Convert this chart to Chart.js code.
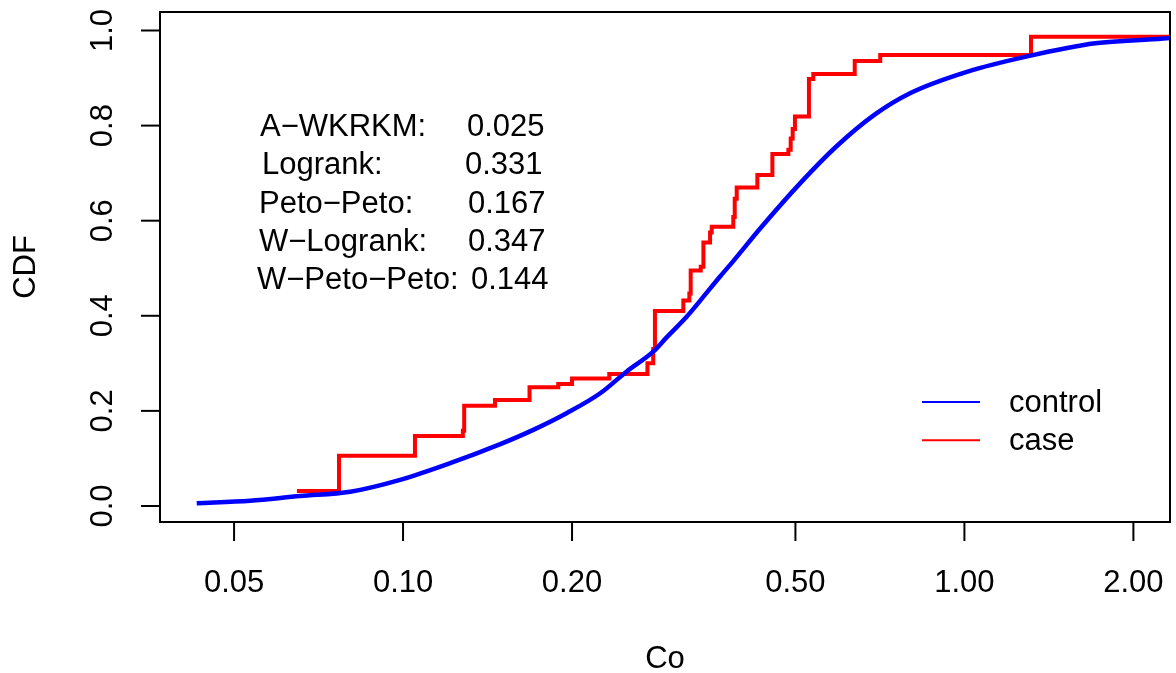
<!DOCTYPE html>
<html lang="en">
<head>
    <meta charset="UTF-8">
    <title>CDF control vs case</title>
    <script src="https://cdn.jsdelivr.net/npm/chart.js"></script>
    <style>
        body {
            margin: 0;
            padding: 0;
            background: #ffffff;
        }
        .chart-container {
            width: 1176px;
            height: 673px;
        }
    </style>
</head>
<body>
    <div class="chart-container">
        <canvas id="cdfChart" width="1176" height="673"></canvas>
    </div>

    <script>
        const controlX = [0.0429, 0.0534, 0.0655, 0.0805, 0.0988, 0.1213, 0.149, 0.1706, 0.1955,
                          0.2245, 0.250, 0.279, 0.2945, 0.320, 0.3384, 0.3667, 0.3875, 0.433, 0.51,
                          0.59, 0.69, 0.80, 1.01, 1.30, 1.71, 2.26, 2.40];
        const controlY = [0.0057, 0.011, 0.021, 0.030, 0.055, 0.090, 0.130, 0.160, 0.195,
                          0.237, 0.2825, 0.3245, 0.354, 0.398, 0.432, 0.482, 0.515, 0.584, 0.679,
                          0.755, 0.822, 0.868, 0.913, 0.946, 0.973, 0.983, 0.986];

        // case: step function, value after each jump
        const caseX = [0.0647, 0.0769, 0.105, 0.1278, 0.1285, 0.1458, 0.168, 0.189, 0.200, 0.233,
                       0.2725, 0.279, 0.281, 0.3157, 0.3236, 0.3254, 0.3391, 0.3428, 0.3523, 0.3547,
                       0.3875, 0.3898, 0.393, 0.4277, 0.4549, 0.4857, 0.4904, 0.4944, 0.499, 0.5285,
                       0.538, 0.6377, 0.708, 1.314, 2.40];
        const caseY = [0.0315, 0.1058, 0.147, 0.158, 0.211, 0.223, 0.2496, 0.2566, 0.268, 0.2776,
                       0.300, 0.330, 0.410, 0.432, 0.447, 0.495, 0.503, 0.554, 0.575, 0.587,
                       0.608, 0.646, 0.670, 0.696, 0.740, 0.749, 0.773, 0.793, 0.819, 0.898,
                       0.9085, 0.936, 0.9485, 0.987, 0.987];

        const xTicks = [0.05, 0.1, 0.2, 0.5, 1, 2];
        const xTickLabels = ['0.05', '0.10', '0.20', '0.50', '1.00', '2.00'];
        const yTicks = [0, 0.2, 0.4, 0.6, 0.8, 1.0];
        const yTickLabels = ['0.0', '0.2', '0.4', '0.6', '0.8', '1.0'];

        const testNames = ['A\u2212WKRKM:', 'Logrank:', 'Peto\u2212Peto:', 'W\u2212Logrank:', 'W\u2212Peto\u2212Peto:'];
        const testPValues = ['0.025', '0.331', '0.167', '0.347', '0.144'];

        const legendLabels = ['control', 'case'];
        const legendColors = ['#0000ff', '#ff0000'];

        const FONT = '31px "Liberation Sans", Arial, Helvetica, sans-serif';

        // R-style box, ticks, labels, annotation and legend
        const baseGraphics = {
            id: 'baseGraphics',
            afterDraw(chart) {
                const ctx = chart.ctx;
                const area = chart.chartArea;
                const xs = chart.scales.x;
                const ys = chart.scales.y;
                ctx.save();
                ctx.strokeStyle = '#000';
                ctx.fillStyle = '#000';
                ctx.lineWidth = 2;
                ctx.strokeRect(area.left, area.top, area.right - area.left, area.bottom - area.top);

                ctx.font = FONT;
                // x axis
                ctx.textAlign = 'center';
                ctx.textBaseline = 'alphabetic';
                xTicks.forEach((v, i) => {
                    const px = xs.getPixelForValue(v);
                    ctx.beginPath();
                    ctx.moveTo(px, area.bottom);
                    ctx.lineTo(px, area.bottom + 19);
                    ctx.stroke();
                    ctx.fillText(xTickLabels[i], px, 592);
                });
                // y axis
                yTicks.forEach((v, i) => {
                    const py = ys.getPixelForValue(v);
                    ctx.beginPath();
                    ctx.moveTo(area.left, py);
                    ctx.lineTo(area.left - 19, py);
                    ctx.stroke();
                    ctx.save();
                    ctx.translate(103, py);
                    ctx.rotate(-Math.PI / 2);
                    ctx.textBaseline = 'middle';
                    ctx.fillText(yTickLabels[i], 0, 0);
                    ctx.restore();
                });
                // axis titles
                ctx.fillText('Co', (area.left + area.right) / 2, 668);
                ctx.save();
                ctx.translate(26, (area.top + area.bottom) / 2);
                ctx.rotate(-Math.PI / 2);
                ctx.textBaseline = 'middle';
                ctx.fillText('CDF', 0, 0);
                ctx.restore();

                // test p-values
                ctx.textAlign = 'left';
                const nameX = [260, 262, 259, 259, 257];
                const valX = [467, 465, 468, 468, 471];
                testNames.forEach((name, i) => {
                    const y = 136 + i * 38.3;
                    ctx.fillText(name, nameX[i], y);
                    ctx.fillText(testPValues[i], valX[i], y);
                });

                // legend
                ctx.textBaseline = 'middle';
                legendLabels.forEach((lab, i) => {
                    const y = 402 + i * 38.3;
                    ctx.strokeStyle = legendColors[i];
                    ctx.beginPath();
                    ctx.moveTo(922, y);
                    ctx.lineTo(980, y);
                    ctx.stroke();
                    ctx.fillText(lab, 1009, y + 1);
                });
                ctx.restore();
            }
        };

        const ctx = document.getElementById('cdfChart').getContext('2d');
        const cdfChart = new Chart(ctx, {
            type: 'scatter',
            data: {
                datasets: [
                    {
                        label: 'control',
                        data: controlX.map((x, i) => ({ x: x, y: controlY[i] })),
                        showLine: true,
                        borderColor: '#0000ff',
                        borderWidth: 4.5,
                        pointRadius: 0,
                        cubicInterpolationMode: 'monotone'
                    },
                    {
                        label: 'case',
                        data: caseX.map((x, i) => ({ x: x, y: caseY[i] })),
                        showLine: true,
                        stepped: true,
                        borderColor: '#ff0000',
                        borderWidth: 4,
                        pointRadius: 0
                    }
                ]
            },
            options: {
                responsive: false,
                animation: false,
                layout: {
                    padding: { left: 160, top: 12, right: 6, bottom: 151 }
                },
                plugins: {
                    legend: { display: false },
                    tooltip: { enabled: false }
                },
                scales: {
                    x: {
                        type: 'logarithmic',
                        min: 0.0369,
                        max: 2.324,
                        display: false
                    },
                    y: {
                        type: 'linear',
                        min: -0.0337,
                        max: 1.0389,
                        display: false
                    }
                }
            },
            plugins: [baseGraphics]
        });
    </script>
</body>
</html>
